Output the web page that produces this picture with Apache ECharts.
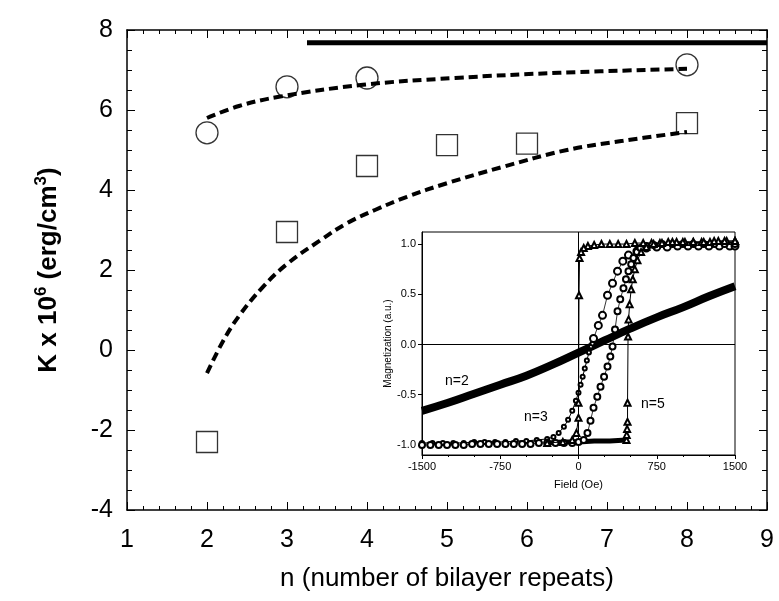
<!DOCTYPE html>
<html>
<head>
<meta charset="utf-8">
<script src="https://cdn.jsdelivr.net/npm/echarts@6/dist/echarts.min.js"></script>
<style>
  html, body { margin: 0; padding: 0; background: #fff; }
  #chart { width: 779px; height: 601px; }
</style>
</head>
<body>
<div id="chart"></div>
<script>
// main panel: anisotropy vs number of bilayer repeats
const nCircle = [2, 3, 4, 8]
const kCircle = [5.43, 6.58, 6.8, 7.13]
const nSquare = [2, 3, 4, 5, 6, 8]
const kSquare = [-2.3, 2.95, 4.6, 5.12, 5.16, 5.67]
const fitUpperN = [2, 2.4, 2.9, 3.95, 5.1, 6.4, 8]
const fitUpperK = [5.8, 6.1, 6.33, 6.63, 6.8, 6.93, 7.03]
const fitLowerN = [2, 2.2, 2.4, 2.7, 3, 3.4, 3.75, 4.1, 4.5, 5, 5.7, 6.5, 7.2, 8]
const fitLowerK = [-0.58, 0.22, 0.85, 1.58, 2.15, 2.72, 3.17, 3.5, 3.83, 4.17, 4.58, 5.0, 5.23, 5.45]
const bulkN = [3.25, 9]
const bulkK = [7.68, 7.68]
const xTicks = [1, 9, 1]   // min, max, step
const yTicks = [-4, 8, 2]

// inset: hysteresis loops, field (Oe) vs magnetization
const loopN2 = [[-1500, -0.66], [-1250, -0.58], [-1000, -0.49], [-750, -0.4], [-500, -0.31], [-250, -0.2],
  [0, -0.08], [250, 0.04], [500, 0.16], [750, 0.27], [1000, 0.37], [1250, 0.48], [1500, 0.58]]
const loopN3Left = [[-1500, -0.98], [-1400, -0.98], [-1300, -0.98], [-1200, -0.98], [-1100, -0.98], [-1000, -0.97],
  [-900, -0.97], [-800, -0.97], [-700, -0.97], [-600, -0.96], [-500, -0.96], [-400, -0.95], [-300, -0.94],
  [-240, -0.92], [-190, -0.88], [-140, -0.82], [-100, -0.75], [-60, -0.66], [-25, -0.56], [0, -0.48],
  [20, -0.4], [40, -0.32], [60, -0.24], [80, -0.16], [100, -0.08], [120, -0.02], [134, 0.01]]
const loopN3Open = [[144, 0.06], [190, 0.19], [230, 0.29], [278, 0.49], [326, 0.61], [374, 0.73], [425, 0.83],
  [479, 0.89], [560, 0.93], [650, 0.96], [750, 0.97], [850, 0.97], [950, 0.98], [1050, 0.98], [1150, 0.98],
  [1250, 0.98], [1350, 0.98], [1450, 0.98], [1500, 0.98]]
const loopN3Right = [[-1500, -1.0], [-1420, -1.0], [-1340, -1.0], [-1260, -1.0], [-1180, -1.0], [-1100, -1.0],
  [-1020, -0.99], [-940, -0.99], [-860, -0.99], [-780, -0.99], [-700, -0.99], [-620, -0.99], [-540, -0.99],
  [-460, -0.99], [-380, -0.98], [-300, -0.98], [-220, -0.98], [-140, -0.98], [-60, -0.98], [0, -0.97],
  [50, -0.95], [86, -0.88], [115, -0.76], [144, -0.63], [180, -0.52], [211, -0.42], [245, -0.32], [278, -0.22],
  [305, -0.12], [326, -0.02], [350, 0.15], [374, 0.33], [400, 0.45], [431, 0.56], [455, 0.65], [479, 0.73],
  [505, 0.8], [527, 0.86], [560, 0.92], [594, 0.96], [650, 0.98], [720, 0.99], [800, 1.0], [900, 1.0],
  [1000, 1.0], [1100, 1.0], [1200, 1.0], [1300, 1.0], [1400, 1.0], [1500, 1.0]]
const loopN5Down = [[1500, 1.03], [1420, 1.03], [1340, 1.03], [1260, 1.02], [1180, 1.02], [1100, 1.02],
  [1020, 1.02], [940, 1.02], [860, 1.02], [780, 1.01], [700, 1.01], [620, 1.01], [540, 1.01], [460, 1.0],
  [380, 1.0], [300, 1.0], [220, 1.0], [150, 0.99], [90, 0.98], [50, 0.96], [25, 0.92], [10, 0.86],
  [5, 0.49], [0, -0.58], [0, -0.73], [-20, -0.88], [-60, -0.95], [-150, -0.97], [-300, -0.98]]
const loopN5Flat = [[-300, -0.98], [-150, -0.97], [0, -0.97], [150, -0.96], [300, -0.96], [460, -0.95]]
const loopN5Up = [[460, -0.95], [462, -0.9], [466, -0.84], [470, -0.77], [470, -0.58], [475, 0.08],
  [480, 0.25], [490, 0.4], [505, 0.55], [520, 0.65], [540, 0.75], [565, 0.84], [600, 0.92], [650, 0.97],
  [720, 1.0], [800, 1.01], [900, 1.02], [1000, 1.02], [1100, 1.02], [1200, 1.02], [1300, 1.03],
  [1400, 1.03], [1500, 1.03]]
const insetXTicks = [-1500, 1500, 750]
const insetYLabels = [-1, -0.5, 0, 0.5, 1]

const FONT = '"Liberation Sans", Arial, Helvetica, sans-serif'

function pairs(xs, ys) {
  return xs.map((x, i) => [x, ys[i]])
}

const chart = echarts.init(document.getElementById('chart'))

const mainTick = { show: true, inside: true, length: 8, lineStyle: { color: '#000', width: 1 } }
const mainMinor = { show: true, splitNumber: 5, length: 4, lineStyle: { color: '#000', width: 1 } }
const mainLine = { show: true, onZero: false, lineStyle: { color: '#000', width: 1.5 } }

const option = {
  animation: false,
  backgroundColor: '#fff',
  textStyle: { fontFamily: FONT, color: '#000' },
  grid: [
    { left: 127, top: 30, width: 640, height: 480, show: false },
    { left: 422, top: 232, width: 313, height: 223, show: true, backgroundColor: '#fff', borderColor: '#000', borderWidth: 1, z: 5 },
  ],
  xAxis: [
    {
      type: 'value', gridIndex: 0, position: 'bottom',
      min: xTicks[0], max: xTicks[1], interval: xTicks[2],
      name: 'n (number of bilayer repeats)', nameLocation: 'middle', nameGap: 56,
      nameTextStyle: { fontSize: 26, color: '#000', fontFamily: FONT },
      axisLine: mainLine, axisTick: mainTick, minorTick: mainMinor,
      axisLabel: { fontSize: 25, color: '#000', margin: 18, fontFamily: FONT },
      splitLine: { show: false },
    },
    {
      type: 'value', gridIndex: 0, position: 'top',
      min: xTicks[0], max: xTicks[1], interval: xTicks[2],
      axisLine: mainLine, axisTick: mainTick, minorTick: mainMinor,
      axisLabel: { show: false }, splitLine: { show: false },
    },
    {
      type: 'value', gridIndex: 1, position: 'bottom',
      min: insetXTicks[0], max: insetXTicks[1], interval: insetXTicks[2],
      name: 'Field (Oe)', nameLocation: 'middle', nameGap: 24,
      nameTextStyle: { fontSize: 11, color: '#000', fontFamily: FONT },
      axisLine: { show: true, onZero: false, lineStyle: { color: '#000', width: 1 } },
      axisTick: { show: true, inside: false, length: 4, lineStyle: { color: '#000' } },
      minorTick: { show: true, splitNumber: 3, length: 2, lineStyle: { color: '#000' } },
      axisLabel: { fontSize: 11, color: '#000', margin: 6, fontFamily: FONT, formatter: (v) => String(v) },
      splitLine: { show: false },
      z: 6,
    },
  ],
  yAxis: [
    {
      type: 'value', gridIndex: 0, position: 'left',
      min: yTicks[0], max: yTicks[1], interval: yTicks[2],
      name: '{t|K x 10}{s|6}{t| (erg/cm}{s|3}{t|)}',
      nameLocation: 'middle', nameGap: 62, nameRotate: 90,
      nameTextStyle: {
        fontFamily: FONT,
        rich: {
          t: { fontSize: 26, fontWeight: 'bold', color: '#000', fontFamily: FONT, lineHeight: 32 },
          s: { fontSize: 17, fontWeight: 'bold', color: '#000', fontFamily: FONT, verticalAlign: 'top', lineHeight: 32, padding: [0, 0, 14, 0] },
        },
      },
      axisLine: mainLine, axisTick: mainTick,
      minorTick: { show: true, splitNumber: 4, length: 5, lineStyle: { color: '#000', width: 1 } },
      axisLabel: { fontSize: 25, color: '#000', margin: 14, fontFamily: FONT },
      splitLine: { show: false },
    },
    {
      type: 'value', gridIndex: 0, position: 'right',
      min: yTicks[0], max: yTicks[1], interval: yTicks[2],
      axisLine: mainLine, axisTick: mainTick,
      minorTick: { show: true, splitNumber: 4, length: 5, lineStyle: { color: '#000', width: 1 } },
      axisLabel: { show: false }, splitLine: { show: false },
    },
    {
      type: 'value', gridIndex: 1, position: 'left',
      min: -1.1, max: 1.12,
      name: 'Magnetization (a.u.)', nameLocation: 'middle', nameGap: 28, nameRotate: 90,
      nameTextStyle: { fontSize: 10, color: '#000', fontFamily: FONT },
      axisLine: { show: true, onZero: false, lineStyle: { color: '#000', width: 1 } },
      axisTick: { show: true, inside: false, length: 4, customValues: insetYLabels, lineStyle: { color: '#000' } },
      axisLabel: {
        fontSize: 11, color: '#000', margin: 6, fontFamily: FONT,
        customValues: insetYLabels,
        formatter: (v) => v.toFixed(1),
      },
      splitLine: { show: false },
      z: 6,
    },
  ],
  graphic: [
    { type: 'text', left: 445, top: 374, z: 20, style: { text: 'n=2', font: '14px ' + FONT, fill: '#000' } },
    { type: 'text', left: 524, top: 410, z: 20, style: { text: 'n=3', font: '14px ' + FONT, fill: '#000' } },
    { type: 'text', left: 641, top: 397, z: 20, style: { text: 'n=5', font: '14px ' + FONT, fill: '#000' } },
  ],
  series: [
    {
      type: 'line', xAxisIndex: 0, yAxisIndex: 0, data: pairs(bulkN, bulkK),
      showSymbol: false, lineStyle: { color: '#000', width: 5 }, z: 3,
    },
    {
      type: 'line', xAxisIndex: 0, yAxisIndex: 0, data: pairs(fitUpperN, fitUpperK), smooth: 0.4,
      showSymbol: false, lineStyle: { color: '#000', width: 4, type: [9, 5] }, z: 3,
    },
    {
      type: 'line', xAxisIndex: 0, yAxisIndex: 0, data: pairs(fitLowerN, fitLowerK), smooth: 0.4,
      showSymbol: false, lineStyle: { color: '#000', width: 4, type: [9, 5] }, z: 3,
    },
    {
      type: 'scatter', xAxisIndex: 0, yAxisIndex: 0, data: pairs(nCircle, kCircle),
      symbol: 'circle', symbolSize: 22,
      itemStyle: { color: 'rgba(255,255,255,0)', borderColor: '#000', borderWidth: 1.3 }, z: 4,
    },
    {
      type: 'scatter', xAxisIndex: 0, yAxisIndex: 0, data: pairs(nSquare, kSquare),
      symbol: 'rect', symbolSize: 21,
      itemStyle: { color: 'rgba(255,255,255,0)', borderColor: '#000', borderWidth: 1.3 }, z: 4,
    },
    // inset
    {
      type: 'line', xAxisIndex: 2, yAxisIndex: 2, data: loopN2, smooth: true,
      showSymbol: false, lineStyle: { color: '#000', width: 8 }, z: 7,
      markLine: {
        silent: true, symbol: 'none', label: { show: false },
        lineStyle: { color: '#000', width: 1, type: 'solid' },
        data: [{ xAxis: 0 }, { yAxis: 0 }],
      },
    },
    {
      type: 'line', xAxisIndex: 2, yAxisIndex: 2, data: loopN3Left,
      symbol: 'emptyCircle', symbolSize: 4, showAllSymbol: true,
      itemStyle: { color: '#000', borderWidth: 1 }, lineStyle: { color: '#000', width: 1 }, z: 8,
    },
    {
      type: 'line', xAxisIndex: 2, yAxisIndex: 2, data: loopN3Open,
      symbol: 'emptyCircle', symbolSize: 7, showAllSymbol: true,
      itemStyle: { color: '#000', borderWidth: 1 }, lineStyle: { color: '#000', width: 0.8 }, z: 8,
    },
    {
      type: 'line', xAxisIndex: 2, yAxisIndex: 2, data: loopN3Right,
      symbol: 'emptyCircle', symbolSize: 6, showAllSymbol: true,
      itemStyle: { color: '#000', borderWidth: 1 }, lineStyle: { color: '#000', width: 0.8 }, z: 8,
    },
    {
      type: 'line', xAxisIndex: 2, yAxisIndex: 2, data: loopN5Flat,
      showSymbol: false, lineStyle: { color: '#000', width: 5 }, z: 8,
    },
    {
      type: 'line', xAxisIndex: 2, yAxisIndex: 2, data: loopN5Down,
      symbol: 'emptyTriangle', symbolSize: 6, showAllSymbol: true,
      itemStyle: { color: '#000', borderWidth: 1 }, lineStyle: { color: '#000', width: 1 }, z: 9,
    },
    {
      type: 'line', xAxisIndex: 2, yAxisIndex: 2, data: loopN5Up,
      symbol: 'emptyTriangle', symbolSize: 6, showAllSymbol: true,
      itemStyle: { color: '#000', borderWidth: 1 }, lineStyle: { color: '#000', width: 1 }, z: 9,
    },
  ],
}

chart.setOption(option)
window.addEventListener('resize', () => chart.resize())
</script>
</body>
</html>
